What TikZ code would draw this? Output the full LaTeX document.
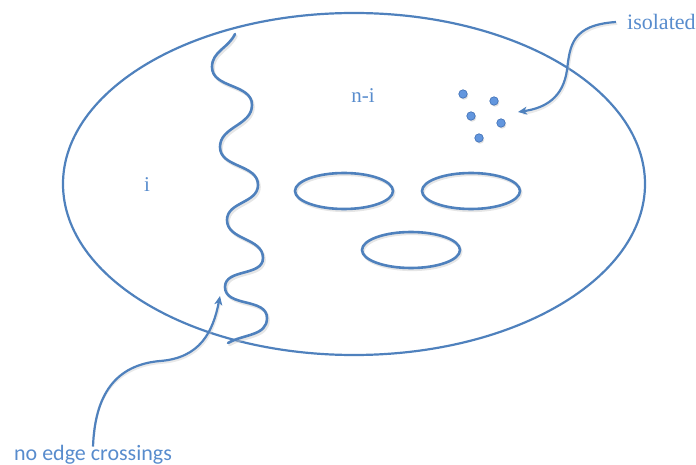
\documentclass[tikz,border=0pt]{standalone}
\usepackage{fontspec}
\setmainfont{Liberation Serif}
\newfontfamily\calib{Carlito}
\usetikzlibrary{arrows.meta}
\definecolor{lineblue}{RGB}{79,129,189}
\definecolor{textblue}{RGB}{88,140,205}
\definecolor{dotfill}{RGB}{98,150,222}
\definecolor{dotedge}{RGB}{62,110,180}
\tikzset{
  outline/.style={draw=lineblue, line width=2.2pt},
  thick line/.style={draw=lineblue, line width=2.6pt, line cap=round},
  shade line/.style={draw=black!22, line width=2.6pt, line cap=round, opacity=0.45},
  pointer/.style={draw=lineblue, line width=2.2pt, -{Stealth[length=9pt,width=8pt,inset=2.5pt]}},
  pointer shade/.style={draw=black!22, line width=2.2pt, opacity=0.4},
  label/.style={text=textblue, font=\fontsize{21}{24}\selectfont, inner sep=0pt},
  dot/.style={circle, fill=dotfill, draw=dotedge, line width=0.6pt, minimum size=8.5pt, inner sep=0pt},
}
\begin{document}
\begin{tikzpicture}[x=1pt, y=1pt]
\useasboundingbox (0,0) rectangle (696,-465);

% outer region
\draw[outline] (354,-184) ellipse [x radius=291, y radius=171];

% wavy separating curve, with a faint shadow underneath
\def\wave{(235,-34) to[out=245,in=90] (212,-67)
  to[out=270,in=90] (252,-105)
  to[out=270,in=90] (220,-147)
  to[out=270,in=90] (258,-185)
  to[out=270,in=90] (227,-220)
  to[out=270,in=90] (263,-258)
  to[out=270,in=90] (225,-287)
  to[out=270,in=90] (267,-318)
  to[out=270,in=30] (228,-343)}
\draw[shade line, shift={(1.5,-2)}] \wave;
\draw[thick line] \wave;

% three holes
\foreach \cx/\cy [count=\k] in {344/-191, 471/-191, 411/-250} {
  \draw[shade line, shift={(1.2,-1.8)}] (\cx,\cy) ellipse [x radius=49, y radius=18];
  \draw[thick line] (\cx,\cy) ellipse [x radius=49, y radius=18];
}

% region labels
\node[label] (left) at (147,-185) {i};
\node[label] (right) at (363,-96) {n-i};

% isolated vertices
\foreach \px/\py [count=\k] in {463/-94, 494/-101, 471/-116, 501/-123, 479/-138} {
  \node[dot, fill=black!25, draw=none, opacity=0.5] at (\px+1,\py-1.5) {};
  \node[dot] (v\k) at (\px,\py) {};
}

% annotations
\node[label, font=\fontsize{22}{26}\selectfont, anchor=west] (iso) at (627,-22) {isolated};
\node[label, font=\calib\fontsize{22}{26}\selectfont, anchor=base] (nec) at (93,-460) {no edge crossings};

\coordinate (isotip) at (518,-112);
\coordinate (nectip) at (220,-296);

\draw[pointer shade, shift={(1.2,-1.8)}] (616,-22) .. controls (572,-25) and (570,-45) .. (567,-70)
  .. controls (563,-98) and (545,-108) .. (522,-112);
\draw[pointer] (iso.west) ++(-11,0) .. controls (572,-25) and (570,-45) .. (567,-70)
  .. controls (563,-98) and (545,-108) .. (isotip);

\draw[pointer shade, shift={(1.2,-1.8)}] (93,-433) .. controls (95,-395) and (115,-365) .. (160,-361)
  .. controls (200,-358) and (213,-332) .. (219,-300);
\draw[pointer] (nec.north) ++(0,-2) .. controls (95,-395) and (115,-365) .. (160,-361)
  .. controls (200,-358) and (213,-332) .. (nectip);
\end{tikzpicture}
\end{document}
